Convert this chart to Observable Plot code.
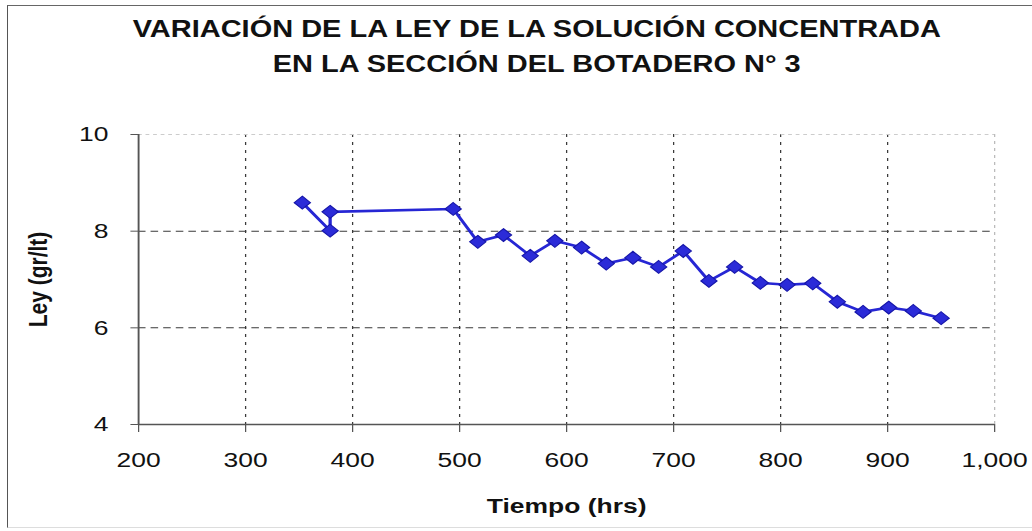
<!DOCTYPE html>
<html><head><meta charset="utf-8">
<script src="https://cdn.jsdelivr.net/npm/d3@7"></script>
<script src="https://cdn.jsdelivr.net/npm/@observablehq/plot@0.6"></script>
<style>
html,body{margin:0;padding:0;background:#fff;width:1032px;height:531px;overflow:hidden;}
#frame{position:absolute;left:7px;top:5px;width:1040px;height:523px;border-left:1.5px solid #555;border-top:1.5px solid #666;border-bottom:1px solid #ddd;box-sizing:border-box;pointer-events:none;}
#wrap{position:absolute;left:0;top:0;width:819px;transform:scaleX(1.26);transform-origin:0 0;}
#title{box-sizing:border-box;height:100px;padding-top:12px;margin-left:33px;width:786px;text-align:center;font:bold 23px/35px "Liberation Sans",Arial,sans-serif;color:#111;}
#chart svg{display:block;overflow:visible;}
#chart g[aria-label="x-axis label"] text, #chart g[aria-label="y-axis label"] text{font-weight:bold;}
</style>
</head><body>
<div id="frame"></div>
<div id="wrap">
  <div id="title">VARIACIÓN DE LA LEY DE LA SOLUCIÓN CONCENTRADA<br>EN LA SECCIÓN DEL BOTADERO N° 3</div>
  <div id="chart"></div>
</div>
<script>
const tiempo = [353, 379, 379, 494, 517, 541, 566, 589, 614, 637, 662, 686, 709, 733, 757, 781, 806, 830, 853, 877, 901, 924, 950];
const ley = [8.59, 8.01, 8.40, 8.46, 7.78, 7.92, 7.49, 7.80, 7.66, 7.33, 7.45, 7.26, 7.59, 6.97, 7.26, 6.93, 6.89, 6.92, 6.54, 6.33, 6.42, 6.35, 6.20];
const xTicks = [200, 300, 400, 500, 600, 700, 800, 900, 1000];
const yTicks = [4, 6, 8, 10];
const xLabel = "Tiempo (hrs)";
const yLabel = "Ley (gr/lt)";

const data = tiempo.map((t, i) => ({t, ley: ley[i]}));
const fmtX = d3.format(",");

const chart = Plot.plot({
  width: 819,
  height: 431,
  marginLeft: 109.5,
  marginRight: 30.1,
  marginTop: 34,
  marginBottom: 107,
  style: {fontFamily: '"Liberation Sans", Arial, sans-serif', fontSize: "21px", color: "#111", background: "transparent"},
  x: {domain: [xTicks[0], xTicks[xTicks.length - 1]]},
  y: {domain: [yTicks[0], yTicks[yTicks.length - 1]]},
  marks: [
    Plot.ruleX(xTicks.slice(1, -1), {stroke: "#3a3a3a", strokeDasharray: "3,5", strokeWidth: 1}),
    Plot.ruleX(xTicks.slice(-1), {stroke: "#bbb", strokeDasharray: "3,4", strokeWidth: 1}),
    Plot.ruleY(yTicks.slice(1, -1), {stroke: "#3a3a3a", strokeDasharray: "6,4", strokeWidth: 1}),
    Plot.ruleY(yTicks.slice(-1), {stroke: "#ccc", strokeDasharray: "3,3", strokeWidth: 1}),
    Plot.ruleX(xTicks.slice(0, 1), {stroke: "#555", strokeWidth: 1.5}),
    Plot.ruleY(yTicks.slice(0, 1), {stroke: "#555", strokeWidth: 1.5}),
    Plot.axisX({ticks: xTicks, tickFormat: d => fmtX(d), tickSize: 8, tickPadding: 20, stroke: "#555", label: xLabel, labelAnchor: "center", labelArrow: "none", labelOffset: 88}),
    Plot.axisY({ticks: yTicks, tickFormat: d => String(d), tickSize: 6, tickPadding: 18, stroke: "#555", label: yLabel, labelAnchor: "center", labelArrow: "none", labelOffset: 88}),
    Plot.line(data, {x: "t", y: "ley", stroke: "#2626d4", strokeWidth: 2.6}),
    Plot.dot(data, {x: "t", y: "ley", symbol: "diamond2", r: 5.8, fill: "#2b2bd8", stroke: "#1515a8", strokeWidth: 1})
  ]
});
document.getElementById("chart").appendChild(chart);
</script>
</body></html>
